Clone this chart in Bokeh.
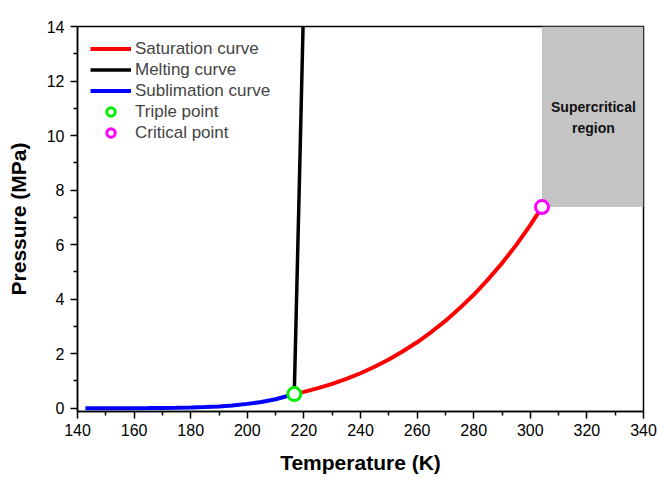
from bokeh.plotting import figure
from bokeh.models import Range1d, Legend, LegendItem, FixedTicker
from bokeh.core.properties import value
from bokeh.embed import file_html
from bokeh.resources import INLINE

# Data (CO2 phase diagram)
sat_T = [216.59, 220, 225, 230, 235, 240, 245, 250, 255, 260, 265, 270, 275, 280,
         285, 290, 295, 300, 302, 304.13]
sat_P = [0.518, 0.600, 0.735, 0.893, 1.077, 1.283, 1.520, 1.785, 2.088, 2.419, 2.794,
         3.203, 3.663, 4.161, 4.716, 5.318, 5.982, 6.713, 7.034, 7.377]

melt_T = [216.59, 217.5, 218.5, 219.7]
melt_P = [0.518, 4.4, 8.7, 14.0]

sub_T = [142.8, 150, 155, 160, 165, 170, 175, 180, 185, 190, 194.7, 200, 205, 210, 216.59]
sub_P = [0.0003, 0.0008, 0.0017, 0.0033, 0.0060, 0.0106, 0.0176, 0.0276, 0.043, 0.0652,
         0.1013, 0.1598, 0.231, 0.329, 0.518]

triple_T, triple_P = [216.59], [0.518]
crit_T, crit_P = [304.13], [7.377]

super_region = dict(left=[304.13], right=[340], bottom=[7.377], top=[14])
super_label = ["Supercritical\nregion"]
super_label_pos = ([322.3], [10.66])

x_ticks = [140, 160, 180, 200, 220, 240, 260, 280, 300, 320, 340]
y_ticks = [0, 2, 4, 6, 8, 10, 12, 14]

FONT = "Liberation Sans"

p = figure(width=657, height=480, output_backend="svg", toolbar_location=None,
           x_range=Range1d(140, 340), y_range=Range1d(-0.12, 14),
           min_border_left=77, min_border_right=14, min_border_top=26, min_border_bottom=69)
p.grid.visible = False
p.outline_line_color = "black"
p.outline_line_width = 1.5
p.background_fill_color = "white"
p.border_fill_color = "white"

p.quad(left=super_region["left"], right=super_region["right"],
       bottom=super_region["bottom"], top=super_region["top"],
       fill_color="#C4C4C4", line_color=None)
p.text(x=super_label_pos[0], y=super_label_pos[1], text=super_label,
       text_font=value(FONT), text_font_style="bold", text_font_size="14px",
       text_align="center", text_baseline="middle", text_line_height=1.35,
       text_color="#111111")

r_sub = p.line(sub_T, sub_P, line_color="#0000FF", line_width=4)
r_sat = p.line(sat_T, sat_P, line_color="#FF0000", line_width=4)
r_melt = p.line(melt_T, melt_P, line_color="black", line_width=3.5)
r_tri = p.scatter(triple_T, triple_P, marker="circle", size=13, fill_color="white",
                  line_color="#00EE00", line_width=3)
r_crit = p.scatter(crit_T, crit_P, marker="circle", size=13, fill_color="white",
                   line_color="#FF00FF", line_width=3)

legend = Legend(items=[
    LegendItem(label="Saturation curve", renderers=[r_sat]),
    LegendItem(label="Melting curve", renderers=[r_melt]),
    LegendItem(label="Sublimation curve", renderers=[r_sub]),
    LegendItem(label="Triple point", renderers=[r_tri]),
    LegendItem(label="Critical point", renderers=[r_crit]),
], location=(13, 268), padding=5, margin=0, spacing=0,
    glyph_width=41, glyph_height=21, label_height=21, label_standoff=4,
    label_text_font=FONT, label_text_font_size="17px",
    background_fill_alpha=0, border_line_color=None)
p.add_layout(legend)

for ax in (p.xaxis[0], p.yaxis[0]):
    ax.axis_line_width = 1.5
    ax.major_tick_line_width = 1.5
    ax.minor_tick_line_width = 1.5
    ax.major_tick_out = 7
    ax.major_tick_in = 0
    ax.minor_tick_out = 4
    ax.minor_tick_in = 0
    ax.major_label_text_font = FONT
    ax.major_label_text_font_size = "16px"
    ax.major_label_text_color = "black"
    ax.axis_label_text_font = FONT
    ax.axis_label_text_font_size = "21px"
    ax.axis_label_text_font_style = "bold"
    ax.axis_label_text_color = "black"

p.xaxis[0].ticker = FixedTicker(ticks=x_ticks, minor_ticks=[t + 10 for t in x_ticks[:-1]])
p.yaxis[0].ticker = FixedTicker(ticks=y_ticks, minor_ticks=[t + 1 for t in y_ticks[:-1]])
p.xaxis[0].axis_label = "Temperature (K)"
p.yaxis[0].axis_label = "Pressure (MPa)"
p.xaxis[0].major_label_standoff = 5
p.xaxis[0].axis_label_standoff = 12
p.yaxis[0].major_label_standoff = 6
p.yaxis[0].axis_label_standoff = 14

open("out.html", "w").write(file_html(p, INLINE))
